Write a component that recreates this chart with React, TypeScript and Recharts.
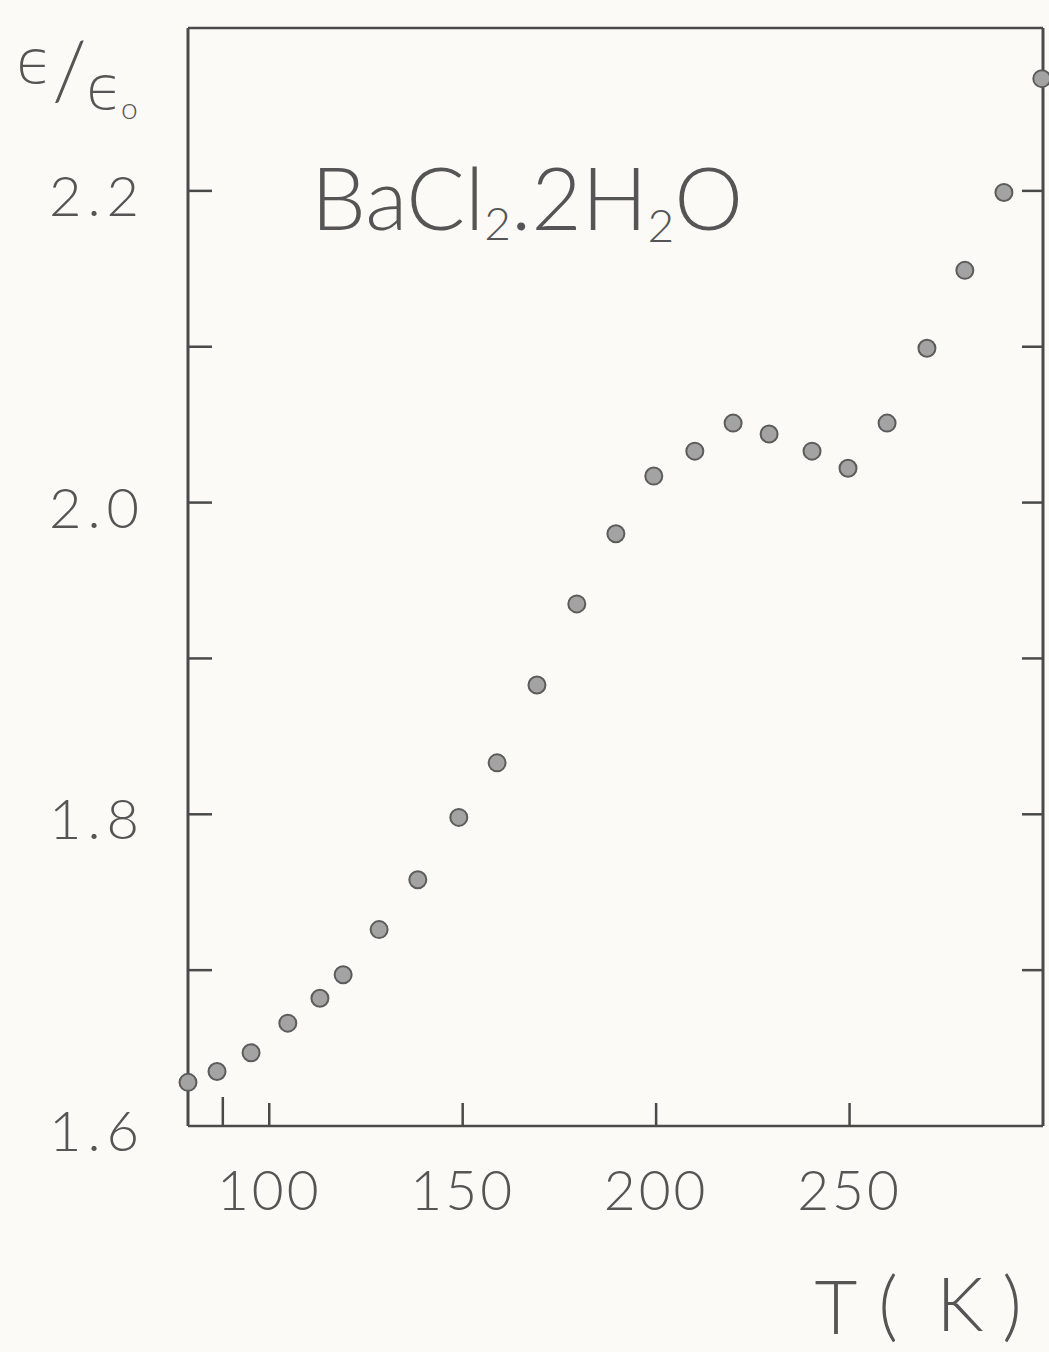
import React from 'react';
import { ScatterChart, Scatter, XAxis, YAxis } from 'recharts';

// Temperature T (K)
const temperatureK = [79, 86.5, 95.3, 104.8, 113.1, 119.1, 128.4, 138.4, 149.0, 158.9, 169.2, 179.5, 189.6, 199.4, 210.0, 219.9, 229.2, 240.3, 249.6, 259.7, 270.0, 279.8, 289.9, 299.7];
// Relative permittivity epsilon / epsilon0
const permittivityRatio = [1.628, 1.635, 1.647, 1.666, 1.682, 1.697, 1.726, 1.758, 1.798, 1.833, 1.883, 1.935, 1.980, 2.017, 2.033, 2.051, 2.044, 2.033, 2.022, 2.051, 2.099, 2.149, 2.199, 2.272];

const topTicks = [100, 150, 200, 250];
const bottomTicks = [88, 100, 150, 200, 250];
const bottomLabels = [100, 150, 200, 250];
const leftTicks = [1.6, 1.7, 1.8, 1.9, 2.0, 2.1, 2.2];
const leftLabels = [1.6, 1.8, 2.0, 2.2];
const rightTicks = [1.7, 1.8, 1.9, 2.0, 2.1, 2.2];

const X_DOMAIN: [number, number] = [79, 300];
const Y_DOMAIN: [number, number] = [1.6, 2.3045];

const data = temperatureK.map((t, i) => ({ t, e: permittivityRatio[i] }));

const INK = '#4a4a4a';
const TEXT = '#555';
const BG = '#fbfaf6';
const FONT = 'Lato, "Open Sans", "DejaVu Sans", sans-serif';

const near = (a: number, b: number) => Math.abs(a - b) < 1e-6;

const LeftTick = (props: any) => {
  const { x, y, payload } = props;
  const v = payload.value as number;
  const labeled = leftLabels.some((l) => near(l, v));
  return (
    <g>
      {!near(v, 1.6) && <line x1={x} x2={x + 24} y1={y} y2={y} stroke={INK} strokeWidth={2.5} />}
      {labeled && (
        <text x={x - 43} y={y + 25} textAnchor="end" fontFamily={FONT} fontWeight={300} fontSize={56} fill={TEXT} letterSpacing={6}>
          {v.toFixed(1)}
        </text>
      )}
    </g>
  );
};

const RightTick = (props: any) => {
  const { x, y } = props;
  return <line x1={x - 21} x2={x} y1={y} y2={y} stroke={INK} strokeWidth={2.5} />;
};

const TopTick = (props: any) => {
  const { x, y } = props;
  return <line x1={x} x2={x} y1={y} y2={y + 23} stroke={INK} strokeWidth={2.5} />;
};

const BottomTick = (props: any) => {
  const { x, y, payload } = props;
  const v = payload.value as number;
  const labeled = bottomLabels.some((l) => near(l, v));
  return (
    <g>
      <line x1={x} x2={x} y1={y} y2={y - (labeled ? 23 : 29)} stroke={INK} strokeWidth={2.5} />
      {labeled && (
        <text x={x} y={y + 84} textAnchor="middle" fontFamily={FONT} fontWeight={300} fontSize={55} fill={TEXT} letterSpacing={3}>
          {String(v)}
        </text>
      )}
    </g>
  );
};

const Dot = (props: any) => {
  const { cx, cy } = props;
  if (cx == null || cy == null) return null;
  return <circle cx={cx} cy={cy} r={8.5} fill="#a3a3a3" stroke="#5c5c5c" strokeWidth={2} />;
};

export default function App() {
  return (
    <div style={{ position: 'relative', width: 1049, height: 1352, background: BG, overflow: 'hidden' }}>
      <style>{`html, body { margin: 0; padding: 0; background: ${BG}; }`}</style>
      <div style={{ position: 'absolute', left: 0, top: 0 }}>
        <ScatterChart width={1049} height={1250} margin={{ top: 0, right: 0, bottom: 0, left: 0 }}>
          <XAxis
            xAxisId="bottom"
            dataKey="t"
            type="number"
            orientation="bottom"
            domain={X_DOMAIN}
            ticks={bottomTicks}
            height={124}
            tickLine={false}
            tickSize={0}
            tickMargin={0}
            interval={0}
            tick={<BottomTick />}
            axisLine={{ stroke: INK, strokeWidth: 2.5 }}
          />
          <XAxis
            xAxisId="top"
            type="number"
            orientation="top"
            domain={X_DOMAIN}
            allowDataOverflow
            ticks={topTicks}
            height={28}
            tickLine={false}
            tickSize={0}
            tickMargin={0}
            interval={0}
            tick={<TopTick />}
            axisLine={{ stroke: INK, strokeWidth: 2.5 }}
          />
          <YAxis
            yAxisId="left"
            dataKey="e"
            type="number"
            orientation="left"
            domain={Y_DOMAIN}
            ticks={leftTicks}
            width={188}
            tickLine={false}
            tickSize={0}
            tickMargin={0}
            interval={0}
            tick={<LeftTick />}
            axisLine={{ stroke: INK, strokeWidth: 3 }}
          />
          <YAxis
            yAxisId="right"
            type="number"
            orientation="right"
            domain={Y_DOMAIN}
            allowDataOverflow
            ticks={rightTicks}
            width={6}
            tickLine={false}
            tickSize={0}
            tickMargin={0}
            interval={0}
            tick={<RightTick />}
            axisLine={{ stroke: INK, strokeWidth: 3 }}
          />
          <Scatter
            data={data}
            xAxisId="bottom"
            yAxisId="left"
            shape={<Dot />}
            isAnimationActive={false}
          />
        </ScatterChart>
      </div>
      <svg width={1049} height={1352} style={{ position: 'absolute', left: 0, top: 0, pointerEvents: 'none' }}>
        {/* y-axis quantity */}
        <text x={16} y={83} fontFamily='"DejaVu Sans", sans-serif' fontSize={60} fill={TEXT} fontWeight={200}>ϵ</text>
        <text x={52} y={100} fontFamily={FONT} fontWeight={300} fontSize={80} fill={TEXT}>/</text>
        <text x={86} y={109} fontFamily='"DejaVu Sans", sans-serif' fontSize={60} fill={TEXT} fontWeight={200}>ϵ</text>
        <text x={121} y={119} fontFamily={FONT} fontWeight={300} fontSize={30} fill={TEXT}>o</text>
        {/* title */}
        <text x={311} y={230} fontFamily={FONT} fontWeight={300} fontSize={87} fill={TEXT}>
          BaCl
          <tspan fontSize={46} dy={10}>2</tspan>
          <tspan dy={-10}>.2H</tspan>
          <tspan fontSize={46} dy={12}>2</tspan>
          <tspan dy={-12}>O</tspan>
        </text>
        {/* x-axis quantity */}
        <text x={836} y={1334} textAnchor="middle" fontFamily={FONT} fontWeight={300} fontSize={74} fill={TEXT}>T</text>
        <text x={888} y={1332} textAnchor="middle" fontFamily={FONT} fontWeight={300} fontSize={76} fill={TEXT}>(</text>
        <text x={960} y={1331} textAnchor="middle" fontFamily={FONT} fontWeight={300} fontSize={74} fill={TEXT}>K</text>
        <text x={1012} y={1332} textAnchor="middle" fontFamily={FONT} fontWeight={300} fontSize={76} fill={TEXT}>)</text>
      </svg>
    </div>
  );
}
